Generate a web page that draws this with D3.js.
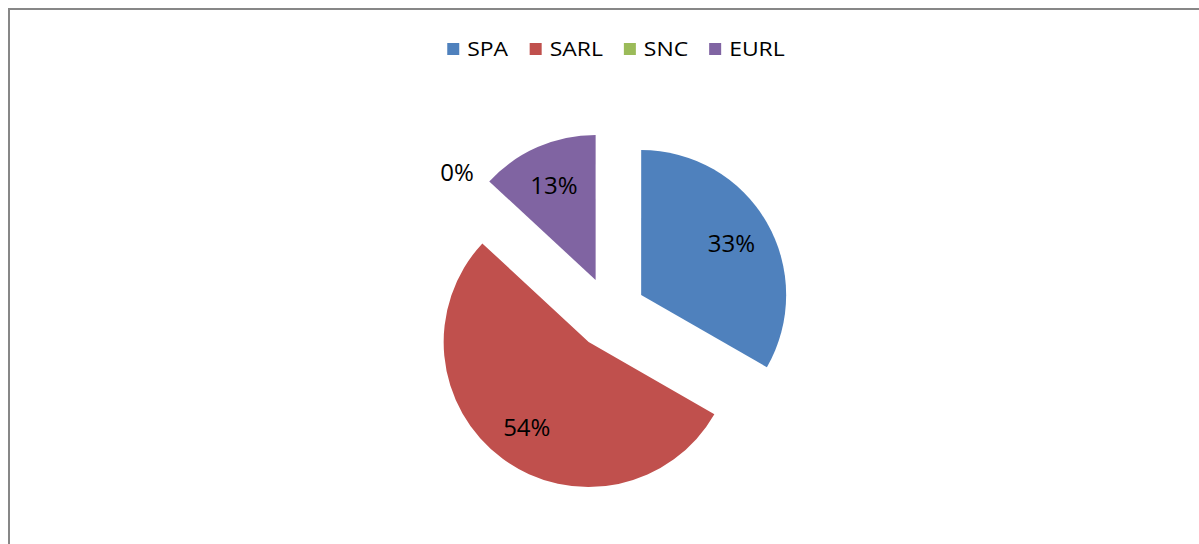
<!DOCTYPE html>
<html>
<head>
<meta charset="utf-8">
<script src="https://cdn.jsdelivr.net/npm/d3@7/dist/d3.min.js"></script>
<style>
  html, body { margin: 0; padding: 0; background: #fff; }
  svg { display: block; }
  text { font-family: "Open Sans", "Noto Sans", sans-serif; }
</style>
</head>
<body>
<svg id="chart" width="1199" height="544"></svg>
<script>
const categories = ["SPA", "SARL", "SNC", "EURL"];
const values = [33.3, 53.6, 0, 13.1];
const colors = ["#4F81BD", "#C0504D", "#9BBB59", "#8064A2"];

const W = 1199, H = 544;
const svg = d3.select("#chart");

// chart area border (top & left visible)
svg.append("path")
  .attr("d", `M9,${H} L9,9 L${W},9`)
  .attr("fill", "none")
  .attr("stroke", "#878787")
  .attr("stroke-width", 2);

const cx = 610, cy = 313, r = 145, explode = 36;
const data = categories.map((c, i) => ({ cat: c, value: values[i], color: colors[i] }));
const total = d3.sum(values);
const pie = d3.pie().value(d => d.value).sort(null);
const arcs = pie(data);
const arc = d3.arc().innerRadius(0).outerRadius(r);
const fmt = v => Math.round(v / total * 100) + "%";

const g = svg.append("g").attr("transform", `translate(${cx},${cy})`);
const slices = g.selectAll("g.slice").data(arcs).enter().append("g")
  .attr("class", "slice")
  .attr("transform", d => {
    const a = (d.startAngle + d.endAngle) / 2;
    return `translate(${explode * Math.sin(a)},${-explode * Math.cos(a)})`;
  });
slices.append("path")
  .attr("d", arc)
  .attr("fill", d => d.data.color);

slices.append("text")
  .attr("x", d => {
    const a = (d.startAngle + d.endAngle) / 2;
    const k = d.data.value === 0 ? 1.19 : 0.72;
    return k * r * Math.sin(a);
  })
  .attr("y", d => {
    const a = (d.startAngle + d.endAngle) / 2;
    const k = d.data.value === 0 ? 1.19 : 0.72;
    return -k * r * Math.cos(a);
  })
  .attr("text-anchor", "middle")
  .attr("dominant-baseline", "central")
  .attr("font-size", 24)
  .attr("fill", "#000")
  .text(d => fmt(d.data.value));

// legend
const legend = svg.append("g");
const items = legend.selectAll("g.item").data(data).enter().append("g").attr("class", "item");
items.append("rect").attr("width", 12).attr("height", 12).attr("y", -13).attr("fill", d => d.color);
items.append("g").attr("transform", "translate(20,0) scale(1.17,1)")
  .append("text").attr("x", 0).attr("y", 0).attr("font-size", 19.6).attr("fill", "#000").text(d => d.cat);
let x = 0;
items.each(function() {
  const w = this.getBBox().width;
  d3.select(this).attr("transform", `translate(${x},0)`);
  x += w + 21;
});
const legW = x - 21;
legend.attr("transform", `translate(${616 - legW / 2},56)`);
</script>
</body>
</html>
